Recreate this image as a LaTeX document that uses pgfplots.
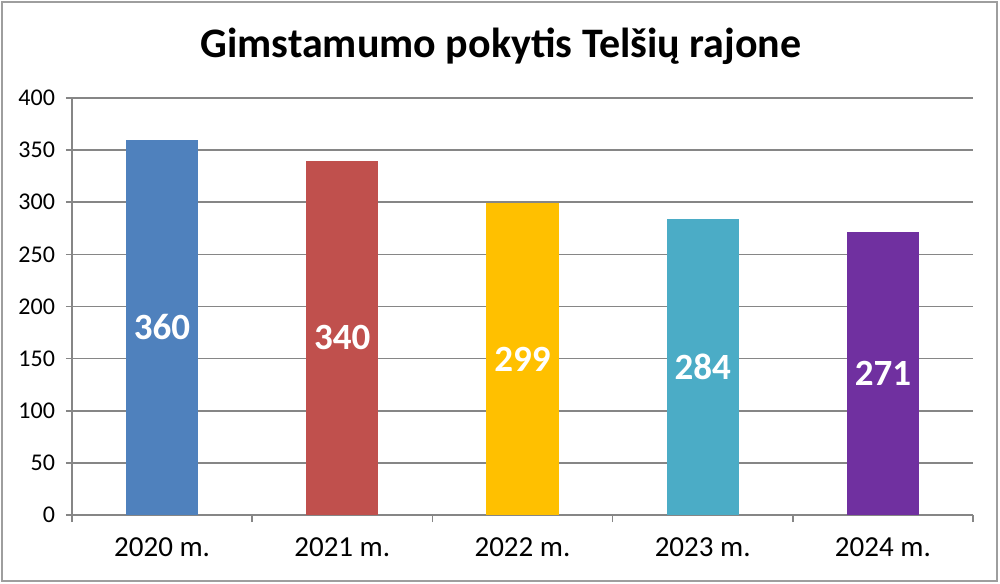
\documentclass[border=0pt]{standalone}
\usepackage{fontspec}
\setmainfont{Carlito}
\usepackage{pgfplots}
\pgfplotsset{compat=1.18}
\definecolor{c1}{HTML}{4F81BD}
\definecolor{c2}{HTML}{C0504D}
\definecolor{c3}{HTML}{FFC000}
\definecolor{c4}{HTML}{4BACC6}
\definecolor{c5}{HTML}{7030A0}
\definecolor{gridc}{HTML}{868686}
\begin{document}
\begin{tikzpicture}
\path[use as bounding box] (-36pt,-34pt) rectangle (464pt,257.5pt);
\draw[gridc!80, line width=1pt] (-35pt,-33pt) rectangle (462.5pt,256.5pt);
\node[font=\fontsize{21}{24}\selectfont\bfseries] at (214.5pt,234.5pt) {Gimstamumo pokytis Telšių rajone};
\begin{axis}[
  at={(0,0)}, anchor=south west,
  scale only axis, width=450.5pt, height=208.5pt,
  xmin=-0.5, xmax=4.5, ymin=0, ymax=400,
  ytick={0,50,...,400},
  xtick={0,1,2,3,4},
  xticklabels={2020 m.,2021 m.,2022 m.,2023 m.,2024 m.},
  minor xtick={-0.5,0.5,1.5,2.5,3.5,4.5},
  major x tick style={draw=none},
  minor x tick style={gridc, line width=0.8pt},
  y tick style={gridc, line width=0.8pt},
  tick align=outside,
  major tick length=3pt, minor tick length=3.5pt,
  ymajorgrids, grid style={gridc, line width=0.8pt},
  axis x line*=bottom, axis y line*=left,
  axis line style={gridc, line width=0.8pt, -},
  /pgf/number format/assume math mode=true,
  yticklabel style={font=\fontsize{12}{14}\selectfont, xshift=-2pt},
  xticklabel style={font=\fontsize{14.5}{17}\selectfont, yshift=-5pt},
  ybar, bar width=36pt, bar shift=0pt,
  visualization depends on={rawy \as \rawy},
  nodes near coords,
  every node near coord/.append style={anchor=center, text=white,
    font=\fontsize{18.5}{20}\selectfont\bfseries,
    shift={(axis direction cs:0,-\rawy/2)}},
  clip=false,
]
\addplot[fill=c1, draw=none] coordinates {(0,360)};
\addplot[fill=c2, draw=none] coordinates {(1,340)};
\addplot[fill=c3, draw=none] coordinates {(2,299)};
\addplot[fill=c4, draw=none] coordinates {(3,284)};
\addplot[fill=c5, draw=none] coordinates {(4,271)};
\end{axis}
\end{tikzpicture}
\end{document}
